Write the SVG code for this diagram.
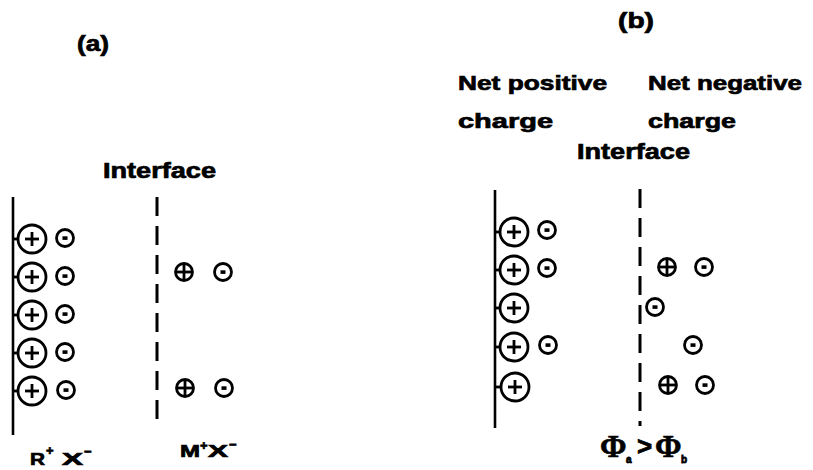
<svg xmlns="http://www.w3.org/2000/svg" width="813" height="470" viewBox="0 0 813 470">
  <style>
    .lbl { font-family: "Liberation Sans", Arial, sans-serif; font-weight: bold; fill: #000; stroke: #000; stroke-width: 0.7; }
    .phi { font-family: "Liberation Serif", "Times New Roman", serif; font-weight: bold; font-size: 32px; fill: #000; stroke: #000; stroke-width: 0.6; }
    .sub { font-family: "Liberation Sans", Arial, sans-serif; font-weight: bold; font-size: 10px; fill: #000; stroke: #000; stroke-width: 0.8; }
    .big { fill: none; stroke: #000; stroke-width: 2.8; }
    .sm { fill: none; stroke: #000; stroke-width: 2.8; }
    .bar { stroke: #000; stroke-width: 2.8; fill: none; }
    .wall { stroke: #000; stroke-width: 2.6; fill: none; }
    .iface { stroke: #000; stroke-width: 3; stroke-dasharray: 19 10; fill: none; }
  </style>
  <defs>
    <!-- large fixed cation (R+) with tick to the wall -->
    <g id="fixedPlus">
      <line class="bar" x1="-19" y1="0" x2="-14" y2="0"/>
      <circle class="big" r="14"/>
      <line class="bar" x1="-7" y1="0" x2="7" y2="0"/>
      <line class="bar" x1="0" y1="-7" x2="0" y2="7"/>
    </g>
    <!-- mobile anion -->
    <g id="minus">
      <circle class="sm" r="8.5"/>
      <rect x="-2.5" y="-1.7" width="5" height="3.6" fill="#000"/>
    </g>
    <!-- mobile cation (M+) -->
    <g id="plus">
      <circle class="sm" r="8.5"/>
      <line class="bar" x1="-8.5" y1="0" x2="8.5" y2="0"/>
      <line class="bar" x1="0" y1="-8.5" x2="0" y2="8.5"/>
    </g>
  </defs>

  <!-- panel (a) -->
  <text class="lbl" x="77" y="51" font-size="22" textLength="32" lengthAdjust="spacingAndGlyphs">(a)</text>
  <text class="lbl" x="103" y="178" font-size="22" textLength="113" lengthAdjust="spacingAndGlyphs">Interface</text>

  <g id="a-resin">
    <line class="wall" x1="13" y1="197" x2="13" y2="435"/>
    <use href="#fixedPlus" x="32" y="239"/>
    <use href="#fixedPlus" x="32" y="277"/>
    <use href="#fixedPlus" x="32" y="315"/>
    <use href="#fixedPlus" x="32" y="353"/>
    <use href="#fixedPlus" x="32" y="391"/>
  </g>
  <g id="a-counterions">
    <use href="#minus" x="65" y="238"/>
    <use href="#minus" x="65" y="276"/>
    <use href="#minus" x="65" y="314"/>
    <use href="#minus" x="65" y="352"/>
    <use href="#minus" x="66" y="390"/>
  </g>
  <g id="a-interface">
    <line class="iface" x1="157" y1="197" x2="157" y2="420"/>
  </g>
  <g id="a-solution">
    <use href="#plus" x="184" y="272"/>
    <use href="#minus" x="223" y="272"/>
    <use href="#plus" x="185" y="388"/>
    <use href="#minus" x="224" y="388"/>
  </g>
  <text class="lbl" y="465" font-size="17"><tspan x="30" textLength="15" lengthAdjust="spacingAndGlyphs">R</tspan><tspan x="46" y="455" font-size="13">+</tspan><tspan x="62" y="465" textLength="21" lengthAdjust="spacingAndGlyphs">X</tspan><tspan x="84" y="456" font-size="13">−</tspan></text>
  <text class="lbl" y="457" font-size="17"><tspan x="180" textLength="20" lengthAdjust="spacingAndGlyphs">M</tspan><tspan x="200" y="450" font-size="13">+</tspan><tspan x="208" y="457" textLength="20" lengthAdjust="spacingAndGlyphs">X</tspan><tspan x="229" y="449" font-size="13">−</tspan></text>

  <!-- panel (b) -->
  <text class="lbl" x="618" y="28" font-size="22" textLength="36" lengthAdjust="spacingAndGlyphs">(b)</text>
  <text class="lbl" x="458" y="90" font-size="21" textLength="149" lengthAdjust="spacingAndGlyphs">Net positive</text>
  <text class="lbl" x="648" y="90" font-size="21" textLength="154" lengthAdjust="spacingAndGlyphs">Net negative</text>
  <text class="lbl" x="458" y="128" font-size="21" textLength="95" lengthAdjust="spacingAndGlyphs">charge</text>
  <text class="lbl" x="648" y="128" font-size="21" textLength="88" lengthAdjust="spacingAndGlyphs">charge</text>
  <text class="lbl" x="577" y="159" font-size="22" textLength="113" lengthAdjust="spacingAndGlyphs">Interface</text>

  <g id="b-resin">
    <line class="wall" x1="495" y1="190" x2="495" y2="428"/>
    <use href="#fixedPlus" x="514" y="232"/>
    <use href="#fixedPlus" x="514" y="270"/>
    <use href="#fixedPlus" x="514" y="308"/>
    <use href="#fixedPlus" x="514" y="347"/>
    <use href="#fixedPlus" x="515" y="387"/>
  </g>
  <g id="b-counterions">
    <use href="#minus" x="547" y="230"/>
    <use href="#minus" x="547" y="268"/>
    <use href="#minus" x="548" y="345"/>
  </g>
  <g id="b-interface">
    <line class="iface" x1="640" y1="189" x2="640" y2="426"/>
  </g>
  <g id="b-solution">
    <use href="#plus" x="667" y="267"/>
    <use href="#minus" x="704" y="267"/>
    <use href="#minus" x="655" y="307"/>
    <use href="#minus" x="693" y="345"/>
    <use href="#plus" x="668" y="385"/>
    <use href="#minus" x="705" y="385"/>
  </g>
  <!-- potential relation: phi_a > phi_b -->
  <text class="phi" x="600" y="457">Φ</text>
  <text class="sub" x="626" y="463">a</text>
  <text class="lbl" x="637" y="455" font-size="26" font-weight="normal" stroke-width="0.3">&gt;</text>
  <text class="phi" x="655" y="457">Φ</text>
  <text class="sub" x="681" y="463">b</text>
</svg>
